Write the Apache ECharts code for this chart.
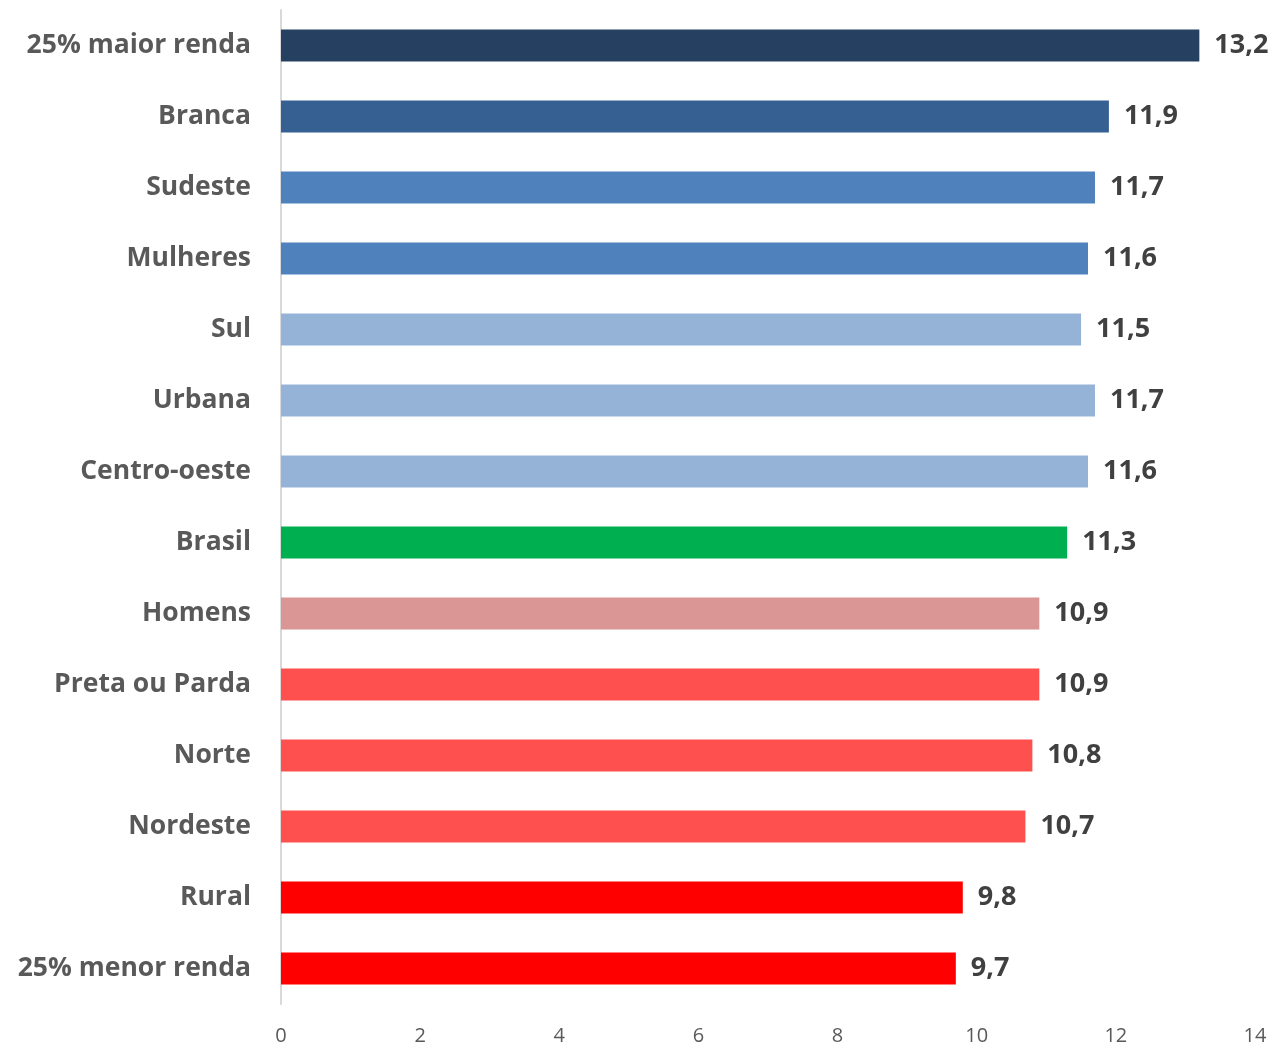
<!DOCTYPE html>
<html>
<head>
<meta charset="utf-8">
<script src="https://cdn.jsdelivr.net/npm/echarts@6/dist/echarts.min.js"></script>
<style>
  html, body { margin: 0; padding: 0; background: #fff; }
  #chart { width: 1276px; height: 1046px; }
</style>
</head>
<body>
<div id="chart"></div>
<script>
// categories top to bottom
var categories = [
  "25% maior renda", "Branca", "Sudeste", "Mulheres", "Sul", "Urbana",
  "Centro-oeste", "Brasil", "Homens", "Preta ou Parda", "Norte",
  "Nordeste", "Rural", "25% menor renda"
];
var values = [13.2, 11.9, 11.7, 11.6, 11.5, 11.7, 11.6, 11.3, 10.9, 10.9, 10.8, 10.7, 9.8, 9.7];
var barColors = [
  "#254061", "#376092", "#4F81BD", "#4F81BD", "#95B3D7", "#95B3D7",
  "#95B3D7", "#00B050", "#DA9694", "#FF5050", "#FF5050", "#FF5050",
  "#FF0000", "#FF0000"
];
var fontFam = "'Open Sans', Lato, sans-serif";

var chart = echarts.init(document.getElementById("chart"));
chart.setOption({
  animation: false,
  grid: { left: 281, right: 21, top: 10, bottom: 42 },
  xAxis: {
    type: "value",
    min: 0,
    max: 14,
    interval: 2,
    axisLine: { show: false },
    axisTick: { show: false },
    splitLine: { show: false },
    axisLabel: { color: "#595959", fontSize: 20, fontFamily: fontFam, margin: 22 }
  },
  yAxis: {
    type: "category",
    inverse: true,
    data: categories,
    axisLine: { show: true, lineStyle: { color: "#d9d9d9", width: 2 } },
    axisTick: { show: false },
    axisLabel: {
      color: "#595959",
      fontSize: 26.5,
      fontWeight: "bold",
      fontFamily: fontFam,
      margin: 30,
      padding: [6, 0, 0, 0]
    }
  },
  series: [{
    type: "bar",
    barWidth: 32,
    data: values.map(function (v, i) {
      return { value: v, itemStyle: { color: barColors[i] } };
    }),
    label: {
      show: true,
      position: "right",
      distance: 15,
      color: "#404040",
      fontSize: 27,
      fontWeight: "bold",
      fontFamily: fontFam,
      padding: [8, 0, 0, 0],
      formatter: function (p) { return String(p.value).replace(".", ","); }
    }
  }]
});
</script>
</body>
</html>
